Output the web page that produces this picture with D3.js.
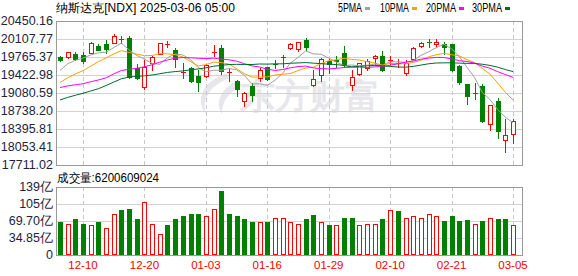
<!DOCTYPE html>
<html>
<head>
<meta charset="utf-8">
<script src="https://cdn.jsdelivr.net/npm/d3@7"></script>
<style>
    body { margin: 0; background: #fff; }
    svg { display: block; }
    text { font-family: "Liberation Sans", Arial, sans-serif; }
</style>
</head>
<body>
<svg id="chart" width="578" height="276"></svg>
<script>

// trading days shown (MM-DD)
var dates = ["12-05","12-06","12-09","12-10","12-11","12-12","12-13","12-16","12-17","12-18",
             "12-19","12-20","12-23","12-24","12-26","12-27","12-30","12-31","01-02","01-03",
             "01-06","01-07","01-08","01-10","01-13","01-14","01-15","01-16","01-17","01-21",
             "01-22","01-23","01-24","01-27","01-28","01-29","01-30","01-31","02-03","02-04",
             "02-05","02-06","02-07","02-10","02-11","02-12","02-13","02-14","02-18","02-19",
             "02-20","02-21","02-24","02-25","02-26","02-27","02-28","03-03","03-04","03-05"];

var opens  = [19760,19760,19830,19800,19850,19980,20010,20040,20100,20130,
              19560,19200,19650,19830,20000,19900,19470,19550,19410,19400,
              19850,19940,19470,19310,18930,19210,19360,19570,19640,19740,
              19930,19920,20090,19235,19430,19690,19700,19840,19235,19440,
              19550,19740,19790,19680,19630,19460,19730,19970,20060,20010,
              20010,20010,19600,19250,19090,19220,18490,18930,18180,18310];

var highs  = [19780,19864,19866,19860,20055,20020,20090,20205,20165,20160,
              19630,19710,19780,20035,20070,19930,19660,19580,19520,19640,
              20000,19990,19530,19330,19100,19280,19550,19580,19710,19800,
              20030,20060,20120,19520,19750,19720,19790,19970,19520,19660,
              19720,19810,19870,19780,19720,19700,19950,20050,20100,20100,
              20060,20020,19610,19250,19280,19250,18860,18980,18590,18590];

var lows   = [19690,19740,19700,19650,19845,19890,19836,20030,20025,19370,
              19340,19150,19510,19820,19950,19580,19360,19290,19120,19380,
              19780,19440,19310,19020,18830,18930,19310,19320,19550,19570,
              19920,19880,19900,19220,19300,19470,19580,19600,19140,19420,
              19510,19640,19500,19640,19580,19420,19720,19950,19950,19980,
              19830,19500,19260,18880,18970,18530,18380,18220,17950,18120];

var closes = [19700.71,19859.77,19736.69,19687.24,20034.89,19902.84,19926.72,20173.89,20109.06,19392.69,
              19372.77,19572.60,19764.89,20031.13,20020.36,19722.03,19486.79,19310.79,19280.79,19621.68,
              19864.98,19489.68,19478.88,19161.63,19088.10,19044.39,19511.23,19338.29,19630.20,19756.78,
              20009.34,20053.68,19954.30,19341.83,19733.59,19632.32,19681.75,19627.44,19391.96,19654.02,
              19692.33,19791.99,19523.40,19714.27,19643.86,19649.95,19945.64,20026.77,20041.26,20056.25,
              19962.36,19524.01,19286.92,19026.39,19075.26,18544.42,18847.28,18350.19,18285.16,18552.73];

// closes of the 29 sessions before the window, needed for the moving averages
var priorCloses = [18415.49,18518.61,18567.19,18712.75,18607.93,18095.15,18239.92,18179.98,18439.17,18983.47,
                   19269.46,19286.78,19298.76,19281.40,19230.74,19107.65,18680.12,18791.81,18987.47,18966.14,
                   18972.42,19003.65,19054.84,19174.30,19060.48,19218.17,19403.95,19480.91,19735.12];

// volume in 亿
var volumes = [68.3,63.6,73.8,63.6,60.8,67.7,55.3,83.4,92.9,95.0,
               74.5,108.6,63.6,43.0,61.5,73.8,79.9,84.0,84.0,79.9,
               94.3,131.9,84.0,79.9,74.5,68.3,67.7,68.3,75.8,75.8,
               68.3,62.9,73.8,82.0,67.0,61.5,60.8,75.8,75.8,60.8,
               62.9,62.9,73.8,91.6,90.2,75.2,79.3,75.2,83.4,79.3,
               69.7,79.9,69.7,71.7,62.9,69.7,75.8,73.8,73.8,62.00609024];

var priceTicks = [20450.16,20107.77,19765.37,19422.98,19080.59,18738.20,18395.81,18053.41,17711.02];
var volTicks = [0, 34.85, 69.70, 104.55, 139.4];
var volTickLabels = ["0","34.85亿","69.70亿","105亿","139亿"];
var dateTicks = ["12-10","12-20","01-03","01-16","01-29","02-10","02-21","03-05"];
var maPeriods = [5, 10, 20, 30];
var maNames = ["5PMA","10PMA","20PMA","30PMA"];

var up = "#ff0000", down = "#008000";
var maColours = ["#a0a0a0","#f5a300","#ff00ff","#006b2e"];

var left = 56, right = 522,
    mainTop = 21, mainBottom = 165,
    volTop = 187, volBottom = 255;

var svg = d3.select("#chart");

var x = d3.scaleLinear().domain([0, dates.length - 1]).range([60, 513]);
var y = d3.scaleLinear().domain([17711.02, 20450.16]).range([mainBottom, mainTop]);
var yv = d3.scaleLinear().domain([0, 139.4]).range([volBottom, volTop]);

function px(v) { return Math.round(v) + 0.5; }

//watermark
var wm = svg.append("g").attr("fill", "#e6e6eb");
wm.append("path").attr("d", "M226,74 C204,80 194,100 206,114 C202,100 208,86 230,78 Z");
wm.append("path").attr("d", "M238,80 C222,88 214,102 222,114 C222,102 228,92 242,86 Z");
wm.append("text")
    .attr("x", 240).attr("y", 108)
    .attr("font-family", "'Noto Sans CJK SC'")
    .attr("font-weight", 900)
    .attr("font-size", 35)
    .attr("textLength", 140)
    .attr("lengthAdjust", "spacingAndGlyphs")
    .text("东方财富");

//grid lines
svg.append("g").selectAll("line")
    .data(priceTicks.slice(1, -1))
    .join("line")
    .attr("x1", left).attr("x2", right)
    .attr("y1", d => px(y(d))).attr("y2", d => px(y(d)))
    .attr("stroke", "#d2d2d2");

svg.append("g").selectAll("line")
    .data(volTicks.slice(1, -1))
    .join("line")
    .attr("x1", left).attr("x2", right)
    .attr("y1", d => px(yv(d))).attr("y2", d => px(yv(d)))
    .attr("stroke", "#d2d2d2");

[[mainTop, mainBottom], [volTop, volBottom]].forEach(function(p) {
    svg.append("g").selectAll("line")
        .data(dateTicks)
        .join("line")
        .attr("x1", d => px(x(dates.indexOf(d)))).attr("x2", d => px(x(dates.indexOf(d))))
        .attr("y1", p[0]).attr("y2", p[1])
        .attr("stroke", "#c8c8c8")
        .attr("stroke-dasharray", "4,3");
});

//candles
var candle = svg.append("g").selectAll("g")
    .data(dates.map((d, i) => i))
    .join("g");

candle.append("line")
    .attr("x1", i => px(x(i))).attr("x2", i => px(x(i)))
    .attr("y1", i => Math.round(y(highs[i]))).attr("y2", i => Math.round(y(lows[i])) + 1)
    .attr("stroke", i => closes[i] >= opens[i] ? up : down);

candle.each(function(i) {
    var g = d3.select(this),
        cx = Math.round(x(i)),
        t = Math.round(y(Math.max(opens[i], closes[i]))),
        b = Math.round(y(Math.min(opens[i], closes[i])));
    if (closes[i] >= opens[i]) {
        if (b - t < 2) {
            g.append("line").attr("x1", cx - 2).attr("x2", cx + 3)
                .attr("y1", t + 0.5).attr("y2", t + 0.5).attr("stroke", up);
        } else {
            g.append("rect").attr("x", cx - 1.5).attr("y", t + 0.5)
                .attr("width", 4).attr("height", b - t)
                .attr("fill", "#fff").attr("stroke", up);
        }
    } else {
        g.append("rect").attr("x", cx - 2).attr("y", t)
            .attr("width", 5).attr("height", Math.max(1, b - t + 1))
            .attr("fill", down);
    }
});

//moving averages
var allCloses = priorCloses.concat(closes);
var line = d3.line().x(d => x(d[0])).y(d => y(d[1]));

maPeriods.forEach(function(n, k) {
    var pts = closes.map(function(c, i) {
        var end = priorCloses.length + i + 1;
        return [i, d3.mean(allCloses.slice(end - n, end))];
    });
    svg.append("path")
        .attr("d", line(pts))
        .attr("fill", "none")
        .attr("stroke", maColours[k])
        .attr("stroke-width", 1);
});

//volume bars, coloured by change from the previous close
var prevClose = i => i === 0 ? priorCloses[priorCloses.length - 1] : closes[i - 1];

svg.append("g").selectAll("rect")
    .data(volumes)
    .join("rect")
    .each(function(v, i) {
        var r = d3.select(this),
            cx = Math.round(x(i)),
            t = Math.round(yv(v));
        if (closes[i] >= prevClose(i)) {
            r.attr("x", cx - 1.5).attr("y", t + 0.5)
                .attr("width", 4).attr("height", volBottom - t - 1)
                .attr("fill", "#fff").attr("stroke", up);
        } else {
            r.attr("x", cx - 2).attr("y", t)
                .attr("width", 5).attr("height", volBottom - t)
                .attr("fill", down);
        }
    });

//panel borders
[[mainTop, mainBottom], [volTop, volBottom]].forEach(function(p) {
    svg.append("rect")
        .attr("x", left + 0.5).attr("y", p[0] + 0.5)
        .attr("width", right - left).attr("height", p[1] - p[0])
        .attr("fill", "none")
        .attr("stroke", "#999");
});

//axis labels
svg.append("g").selectAll("text")
    .data(priceTicks)
    .join("text")
    .attr("x", 53).attr("y", d => y(d))
    .attr("text-anchor", "end")
    .attr("dominant-baseline", "central")
    .attr("font-size", 12.5)
    .attr("fill", "#1e2440")
    .text(d => d.toFixed(2));

svg.append("g").selectAll("text")
    .data(volTicks)
    .join("text")
    .attr("x", 53).attr("y", d => yv(d))
    .attr("text-anchor", "end")
    .attr("dominant-baseline", "central")
    .attr("font-size", 12.5)
    .attr("fill", "#1e2440")
    .text((d, i) => volTickLabels[i]);

svg.append("g").selectAll("text")
    .data(dateTicks)
    .join("text")
    .attr("x", d => x(dates.indexOf(d)))
    .attr("y", 265)
    .attr("text-anchor", "middle")
    .attr("dominant-baseline", "central")
    .attr("font-size", 11.5)
    .attr("fill", "#ff0000")
    .text(d => d);

//title, legend, volume caption
svg.append("text")
    .attr("x", 56).attr("y", 8)
    .attr("dominant-baseline", "central")
    .attr("font-family", "'Noto Sans CJK SC'")
    .attr("font-size", 12)
    .attr("textLength", 179)
    .attr("lengthAdjust", "spacingAndGlyphs")
    .attr("fill", "#000")
    .text("纳斯达克[NDX] 2025-03-06 05:00");

var legendX = [338, 380, 426, 472], legendW = [24, 29, 30, 30];
maNames.forEach(function(name, k) {
    svg.append("text")
        .attr("x", legendX[k]).attr("y", 8)
        .attr("dominant-baseline", "central")
        .attr("font-size", 12)
        .attr("textLength", legendW[k])
        .attr("lengthAdjust", "spacingAndGlyphs")
        .attr("fill", "#000")
        .text(name);
    svg.append("rect")
        .attr("x", legendX[k] + legendW[k] + 3).attr("y", 7)
        .attr("width", 5).attr("height", 3)
        .attr("fill", maColours[k]);
});

svg.append("text")
    .attr("x", 57).attr("y", 177.5)
    .attr("dominant-baseline", "central")
    .attr("font-family", "'Noto Sans CJK SC'")
    .attr("font-size", 12)
    .attr("textLength", 102)
    .attr("lengthAdjust", "spacingAndGlyphs")
    .attr("fill", "#000")
    .text("成交量:" + Math.round(volumes[volumes.length - 1] * 1e8));

</script>
</body>
</html>
